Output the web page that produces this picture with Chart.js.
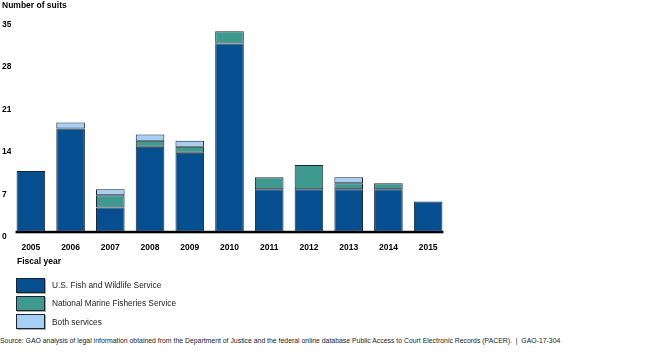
<!DOCTYPE html>
<html>
<head>
<meta charset="utf-8">
<script src="https://cdn.jsdelivr.net/npm/chart.js@4.4.0/dist/chart.umd.min.js"></script>
<style>
  body { margin: 0; background: #fff; font-family: "Liberation Sans", Arial, sans-serif; }
  #wrap { position: relative; width: 650px; height: 353px; overflow: hidden; }
  #chartBox { position: absolute; left: 0; top: 0; width: 650px; height: 264px; }
  #xTitle { position: absolute; left: 17px; top: 256px; font-size: 8.5px; font-weight: bold; color: #000; }
  #legend { position: absolute; left: 16px; top: 276px; }
  .item { display: flex; align-items: center; height: 18.3px; font-size: 8.3px; color: #222; }
  .sw { width: 27px; height: 13px; border: 1px solid #1b2430; box-shadow: 1px 1px 0 #aaa; margin-right: 7px; }
  #source { position: absolute; left: 0; top: 337px; font-size: 6.88px; color: #222; white-space: nowrap; }
</style>
</head>
<body>
<div id="wrap">
  <div id="chartBox"><canvas id="c"></canvas></div>
  <div id="xTitle">Fiscal year</div>
  <div id="legend"></div>
  <div id="source">Source: GAO analysis of legal information obtained from the Department of Justice and the federal online database Public Access to Court Electronic Records (PACER).&nbsp; |&nbsp; GAO-17-304</div>
</div>
<script>
const years = ['2005', '2006', '2007', '2008', '2009', '2010', '2011', '2012', '2013', '2014', '2015'];
const fishWildlife = [10, 17, 4, 14, 13, 31, 7, 7, 7, 7, 5];
const marineFisheries = [0, 0, 2, 1, 1, 2, 2, 4, 1, 1, 0];
const bothServices = [0, 1, 1, 1, 1, 0, 0, 0, 1, 0, 0];
const yTicks = [0, 7, 14, 21, 28, 35];

const seriesNames = ['U.S. Fish and Wildlife Service', 'National Marine Fisheries Service', 'Both services'];
const seriesColors = ['#054f90', '#3e9a8e', '#a6cff6'];
const seriesData = [fishWildlife, marineFisheries, bothServices];

// html legend, one row per series
const legend = document.getElementById('legend');
seriesNames.forEach((name, i) => {
  const row = document.createElement('div');
  row.className = 'item';
  row.innerHTML = '<div class="sw" style="background:' + seriesColors[i] + '"></div>' + name;
  legend.appendChild(row);
});

// thick baseline under the bars only
const baseline = {
  id: 'baseline',
  afterDatasetsDraw(chart) {
    const bars = chart.getDatasetMeta(0).data;
    const first = bars[0], last = bars[bars.length - 1];
    const y = chart.scales.y.getPixelForValue(0);
    const ctx = chart.ctx;
    ctx.save();
    ctx.fillStyle = '#000';
    ctx.fillRect(first.x - first.width / 2 - 1, y - 1, last.x + last.width / 2 - first.x + first.width / 2 + 2, 2.5);
    ctx.restore();
  }
};

new Chart(document.getElementById('c'), {
  type: 'bar',
  data: {
    labels: years,
    datasets: seriesData.map((d, i) => ({
      label: seriesNames[i],
      data: d.map(v => v === 0 ? null : v),
      backgroundColor: seriesColors[i],
      borderColor: '#1b2430',
      borderWidth: 1,
      borderSkipped: false,
      barPercentage: 0.72,
      categoryPercentage: 1.0
    }))
  },
  options: {
    responsive: true,
    maintainAspectRatio: false,
    animation: false,
    layout: { padding: { left: 2, right: 202, top: 0, bottom: 0 } },
    plugins: {
      legend: { display: false },
      tooltip: { enabled: false },
      title: {
        display: true,
        text: 'Number of suits',
        align: 'start',
        color: '#000',
        font: { family: 'Liberation Sans', size: 8.5, weight: 'bold' },
        padding: { top: 1, bottom: 8 }
      }
    },
    scales: {
      x: {
        stacked: true,
        grid: { display: false, drawTicks: false },
        border: { display: false },
        ticks: {
          color: '#000',
          padding: 11,
          maxRotation: 0,
          font: { family: 'Liberation Sans', size: 8.5, weight: 'bold' }
        }
      },
      y: {
        stacked: true,
        min: 0,
        max: 35,
        afterBuildTicks(scale) { scale.ticks = yTicks.map(v => ({ value: v })); },
        afterFit(scale) { scale.width = 9; },
        grid: { display: false, drawTicks: false },
        border: { display: false },
        ticks: {
          color: '#000',
          padding: 0,
          crossAlign: 'far',
          labelOffset: 5,
          font: { family: 'Liberation Sans', size: 8.5, weight: 'bold' }
        }
      }
    }
  },
  plugins: [baseline]
});
</script>
</body>
</html>
